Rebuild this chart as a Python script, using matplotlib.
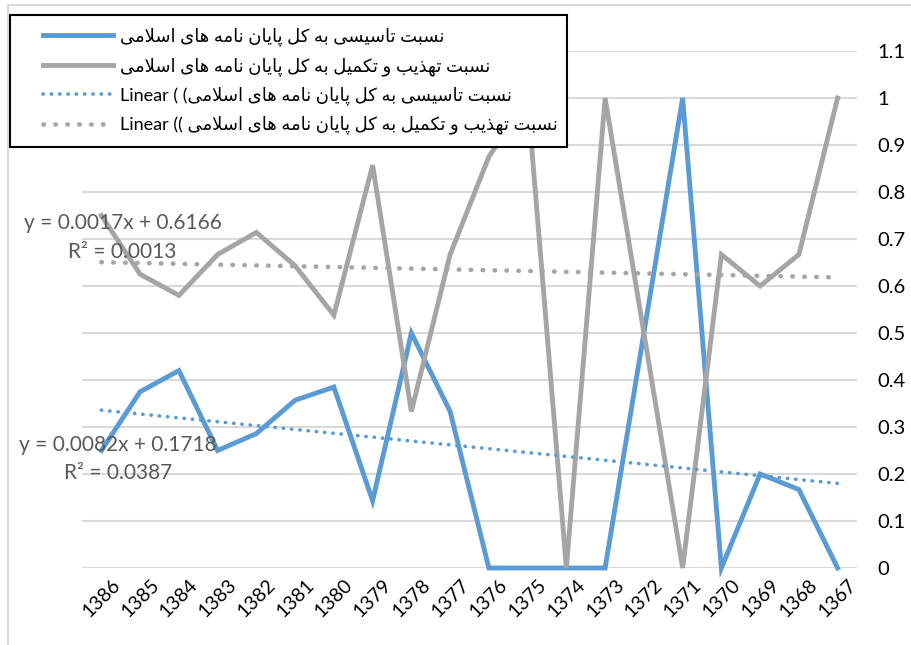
import numpy as np
import matplotlib
matplotlib.use("Agg")
import matplotlib.pyplot as plt
from matplotlib.patches import Rectangle
from matplotlib.lines import Line2D
from matplotlib.legend_handler import HandlerLine2D

plt.rcParams['font.family'] = ['Lato', 'DejaVu Sans']

# data
years = ['1386', '1385', '1384', '1383', '1382', '1381', '1380', '1379', '1378', '1377',
         '1376', '1375', '1374', '1373', '1372', '1371', '1370', '1369', '1368', '1367']
founding_ratio = [0.25, 0.375, 0.42, 0.25, 0.286, 0.357, 0.385, 0.143, 0.5, 0.333,
                  0, 0, 0, 0, 0.5, 1, 0, 0.2, 0.167, 0]
editing_ratio = [0.75, 0.625, 0.58, 0.667, 0.714, 0.643, 0.538, 0.857, 0.333, 0.667,
                 0.875, 1, 0, 1, 0.5, 0, 0.667, 0.6, 0.667, 1]
# trendline coefficients as shown on the chart (x counts 1..20 from the right)
trend_blue = (0.0082, 0.1718)
trend_gray = (0.0017, 0.6166)
eq_blue = ['y = 0.0082x + 0.1718', 'R² = 0.0387']
eq_gray = ['y = 0.0017x + 0.6166', 'R² = 0.0013']

name_founding = 'نسبت تاسیسی به کل پایان نامه های اسلامی'
name_editing = 'نسبت تهذیب و تکمیل به کل پایان نامه های اسلامی'

# simple arabic/persian shaping (matplotlib has no complex text layout)
FORMS = {
    'ا': ('\uFE8D', '\uFE8E', None, None),
    'ب': ('\uFE8F', '\uFE90', '\uFE91', '\uFE92'),
    'ت': ('\uFE95', '\uFE96', '\uFE97', '\uFE98'),
    'ذ': ('\uFEAB', '\uFEAC', None, None),
    'س': ('\uFEB1', '\uFEB2', '\uFEB3', '\uFEB4'),
    'ل': ('\uFEDD', '\uFEDE', '\uFEDF', '\uFEE0'),
    'م': ('\uFEE1', '\uFEE2', '\uFEE3', '\uFEE4'),
    'ن': ('\uFEE5', '\uFEE6', '\uFEE7', '\uFEE8'),
    'ه': ('\uFEE9', '\uFEEA', '\uFEEB', '\uFEEC'),
    'و': ('\uFEED', '\uFEEE', None, None),
    'پ': ('\uFB56', '\uFB57', '\uFB58', '\uFB59'),
    'ک': ('\uFB8E', '\uFB8F', '\uFB90', '\uFB91'),
    'ی': ('\uFBFC', '\uFBFD', '\uFBFE', '\uFBFF'),
}


def joins_fwd(c):
    return c in FORMS and FORMS[c][2] is not None


def shape(text):
    res = []
    i = 0
    n = len(text)
    while i < n:
        c = text[i]
        if c not in FORMS:
            res.append(c)
            i += 1
            continue
        link_prev = i > 0 and joins_fwd(text[i - 1])
        if c == 'ل' and i + 1 < n and text[i + 1] == 'ا':
            res.append('\uFEFC' if link_prev else '\uFEFB')
            i += 2
            continue
        link_next = joins_fwd(c) and i + 1 < n and text[i + 1] in FORMS
        iso, fin, ini, med = FORMS[c]
        if link_prev and link_next:
            g = med
        elif link_prev:
            g = fin
        elif link_next:
            g = ini
        else:
            g = iso
        res.append(g)
        i += 1
    return ''.join(reversed(res))


blue = '#5B9BD5'
gray = '#A5A5A5'
grid_col = '#D9D9D9'

fig = plt.figure(figsize=(9.11, 6.45), dpi=100)
ax = fig.add_axes([82 / 911, 1 - 568 / 645, 775 / 911, 517 / 645])

x = np.arange(len(years))
t = len(years) - x

l1, = ax.plot(x, founding_ratio, color=blue, lw=3.5, solid_joinstyle='miter', clip_on=False, zorder=3)
l2, = ax.plot(x, editing_ratio, color=gray, lw=3.5, solid_joinstyle='miter', clip_on=False, zorder=4)
l3, = ax.plot(x, trend_blue[0] * t + trend_blue[1], color=blue, lw=2.6,
              linestyle=(0, (0.1, 2.2)), dash_capstyle='round', zorder=5)
l4, = ax.plot(x, trend_gray[0] * t + trend_gray[1], color=gray, lw=3.3,
              linestyle=(0, (0.1, 2.5)), dash_capstyle='round', zorder=5)

ax.set_xlim(-0.5, len(years) - 0.5)
ax.set_ylim(0, 1.1)
ax.set_yticks(np.arange(0, 1.11, 0.1))
ax.set_yticklabels(['{:g}'.format(round(v, 1)) for v in np.arange(0, 1.11, 0.1)])
ax.yaxis.tick_right()
ax.tick_params(axis='y', length=0, pad=15, labelsize=14.5, labelcolor='black')
ax.set_xticks(x)
ax.set_xticklabels(years, rotation=45, ha='center', fontsize=14)
ax.tick_params(axis='x', length=0, pad=6)
ax.grid(axis='y', color=grid_col, lw=1.5)
ax.set_axisbelow(True)
for s in ax.spines.values():
    s.set_visible(False)

# trendline equations
ax.text(0.55, 0.734, eq_gray[0], ha='center', va='center', fontsize=15, color='#595959', zorder=6)
ax.text(0.55, 0.672, eq_gray[1], ha='center', va='center', fontsize=15, color='#595959', zorder=6)
ax.text(0.43, 0.262, eq_blue[0], ha='center', va='center', fontsize=15, color='#595959', zorder=6)
ax.text(0.43, 0.202, eq_blue[1], ha='center', va='center', fontsize=15, color='#595959', zorder=6)

labels = [shape(name_founding),
          shape(name_editing),
          'Linear ( (' + shape(name_founding),
          'Linear (( ' + shape(name_editing)]
leg = ax.legend([l1, l2, l3, l4], labels, loc='upper left',
                bbox_to_anchor=(10 / 911, 1 - 142 / 645, 557 / 911, 127 / 645),
                bbox_transform=fig.transFigure, mode='expand', borderaxespad=0,
                fontsize=13, handlelength=5.0, handletextpad=0.4,
                labelspacing=0.6, borderpad=0.7, fancybox=False, framealpha=1,
                handler_map={Line2D: HandlerLine2D(xpad=1.1)})
leg.get_frame().set_edgecolor('black')
leg.get_frame().set_linewidth(1.5)
leg.set_zorder(10)

# chart area border
fig.patches.append(Rectangle((8 / 911, -0.2), 1.2, 1.2 - 5 / 645, transform=fig.transFigure,
                             fill=False, edgecolor=grid_col, lw=1.5))

fig.savefig('out.png', dpi=100)
